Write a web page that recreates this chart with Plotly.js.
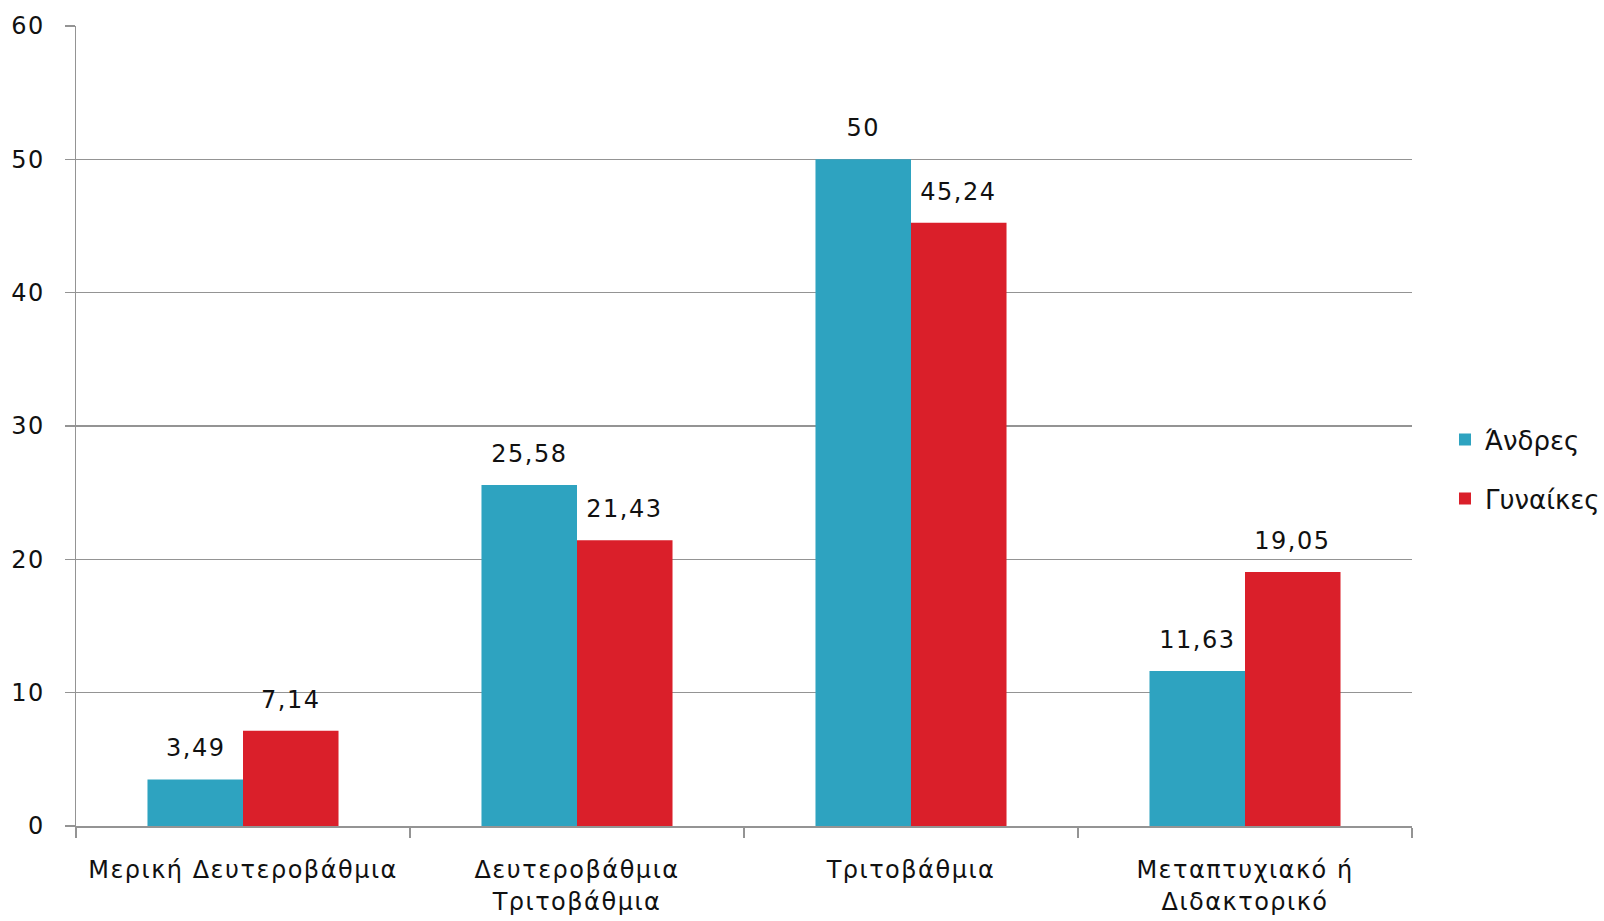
<!DOCTYPE html>
<html>
<head>
<meta charset="utf-8">
<script src="https://cdn.plot.ly/plotly-3.0.1.min.js"></script>
<style>
html,body{margin:0;padding:0;background:#fff;}
#chart{width:1604px;height:921px;}
#chart svg .xtick text, #chart svg .ytick text, #chart svg .annotation text{letter-spacing:1.5px;}
</style>
</head>
<body>
<div id="chart"></div>
<script>
const categories = ["Μερική Δευτεροβάθμια", "Δευτεροβάθμια<br>Τριτοβάθμια", "Τριτοβάθμια", "Μεταπτυχιακό ή<br>Διδακτορικό"];
const seriesNames = ["Άνδρες", "Γυναίκες"];
const men = [3.49, 25.58, 50, 11.63];
const women = [7.14, 21.43, 45.24, 19.05];
const yTicks = [0, 10, 20, 30, 40, 50, 60];

const colors = ["#2ea3c0", "#da1f2a"];
const FONT = "DejaVu Sans, Verdana, sans-serif";
const FS = 24;
const bargap = 0.428;
const fmt = v => String(v).replace('.', ',');

const traces = [men, women].map((vals, s) => ({
  type: 'bar',
  name: seriesNames[s],
  x: categories,
  y: vals,
  marker: {color: colors[s]},
  legendgroup: 'g' + s,
  hoverinfo: 'y'
}));

const half = (1 - bargap) / 4;
const annotations = [];
[men, women].forEach((vals, s) => {
  vals.forEach((v, i) => {
    annotations.push({
      x: i + (s === 0 ? -half : half), y: v, xref: 'x', yref: 'y',
      text: fmt(v), showarrow: false, yanchor: 'bottom', yshift: 15,
      font: {family: FONT, size: FS, color: '#111'}
    });
  });
});

const layout = {
  width: 1604, height: 921,
  margin: {l: 76, r: 192, t: 26, b: 95, autoexpand: false},
  paper_bgcolor: '#fff', plot_bgcolor: '#fff',
  font: {family: FONT, size: FS, color: '#111'},
  barmode: 'group', bargap: bargap, bargroupgap: 0,
  showlegend: true,
  legend: {x: 1.0247, xanchor: 'left', y: 0.446, yanchor: 'middle',
           traceorder: 'grouped', tracegroupgap: 22,
           font: {family: FONT, size: 26, color: '#111'}},
  xaxis: {
    type: 'category',
    range: [-0.5, categories.length - 0.5],
    tickson: 'boundaries', ticks: 'outside', ticklen: 10, tickwidth: 1.5, tickcolor: '#949494',
    showline: true, linecolor: '#949494', linewidth: 1.5,
    showgrid: false, zeroline: false, ticklabelstandoff: 22,
    tickfont: {family: FONT, size: FS, color: '#111'}
  },
  yaxis: {
    range: [0, 60], tickvals: yTicks,
    ticks: 'outside', ticklen: 10, tickwidth: 1.5, tickcolor: '#949494',
    showline: true, linecolor: '#949494', linewidth: 1.5,
    showgrid: true, gridcolor: '#949494', gridwidth: 1.5,
    zeroline: false, ticklabelstandoff: 15,
    tickfont: {family: FONT, size: FS, color: '#111'}
  },
  annotations: annotations
};

Plotly.newPlot('chart', traces, layout, {displayModeBar: false, staticPlot: true});
</script>
</body>
</html>
